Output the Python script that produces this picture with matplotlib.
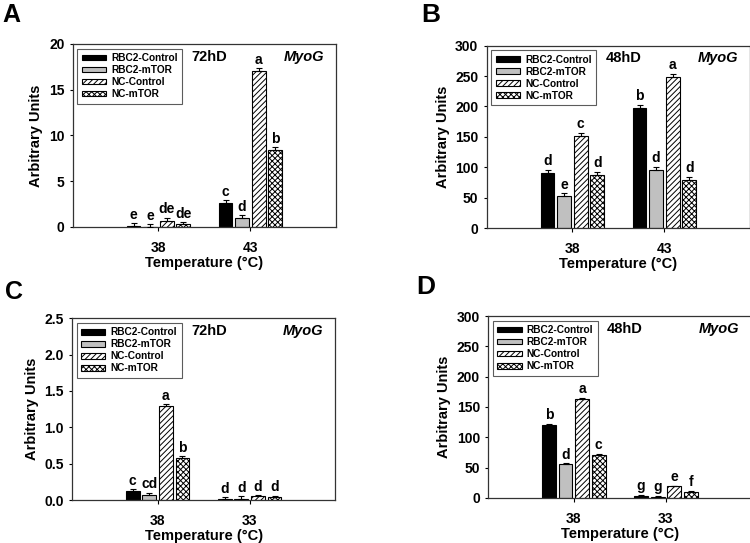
import numpy as np
import matplotlib
matplotlib.use('Agg')
import matplotlib.pyplot as plt

plt.rcParams['font.family'] = ['Liberation Sans', 'DejaVu Sans']
plt.rcParams['font.weight'] = 'bold'
plt.rcParams['hatch.linewidth'] = 0.7

series = ['RBC2-Control', 'RBC2-mTOR', 'NC-Control', 'NC-mTOR']
temps_ab = ['38', '43']
temps_cd = ['38', '33']

# values per temperature group, in series order
a_vals = [[0.15, 0.05, 0.6, 0.3], [2.6, 1.0, 17.1, 8.4]]
a_err = [[0.25, 0.25, 0.4, 0.2], [0.3, 0.3, 0.25, 0.3]]
a_let = [['e', 'e', 'de', 'de'], ['c', 'd', 'a', 'b']]

b_vals = [[91, 52, 151, 88], [197, 95, 248, 79]]
b_err = [[5, 5, 5, 5], [5, 5, 5, 5]]
b_let = [['d', 'e', 'c', 'd'], ['b', 'd', 'a', 'd']]

c_vals = [[0.13, 0.07, 1.30, 0.58], [0.02, 0.02, 0.05, 0.04]]
c_err = [[0.02, 0.03, 0.02, 0.02], [0.02, 0.03, 0.02, 0.02]]
c_let = [['c', 'cd', 'a', 'b'], ['d', 'd', 'd', 'd']]

d_vals = [[120, 56, 163, 70], [4, 2, 19, 10]]
d_err = [[2, 1, 2, 2], [1, 1, 1, 1]]
d_let = [['b', 'd', 'a', 'c'], ['g', 'g', 'e', 'f']]

colors = ['black', '#c0c0c0', 'white', 'white']
hatches = [None, None, '//////', 'xxxxxx']


def panel(ax, temps, vals, err, lets, ymax, ystep, fmt, time_txt, letter_off):
    pitch = 0.18
    width = 0.15
    vals = np.array(vals)
    err = np.array(err)
    for i in range(4):
        x = np.arange(len(temps)) + (i - 1.5) * pitch
        ax.bar(x, vals[:, i], width=width, color=colors[i], edgecolor='black',
               linewidth=0.8, hatch=hatches[i], label=series[i], zorder=2)
        ax.errorbar(x, vals[:, i], yerr=[np.zeros(len(temps)), err[:, i]],
                    fmt='none', ecolor='black', elinewidth=0.8, capsize=2.5,
                    capthick=0.8, zorder=3)
        for j in range(len(temps)):
            ax.text(x[j], vals[j, i] + err[j, i] + letter_off, lets[j][i],
                    ha='center', va='bottom', fontsize=10, fontweight='bold')
    ax.set_xlim(-0.93, 1.93)
    ax.set_ylim(0, ymax)
    ax.set_xticks([0, 1])
    ax.set_xticklabels(temps)
    yt = np.arange(0, ymax + ystep / 2, ystep)
    ax.set_yticks(yt)
    ax.set_yticklabels([fmt % v for v in yt])
    ax.tick_params(axis='x', length=3, pad=7, labelsize=10, direction='out')
    ax.tick_params(axis='y', length=2, pad=4, labelsize=10, direction='out')
    for lab in ax.get_xticklabels() + ax.get_yticklabels():
        lab.set_fontweight('bold')
    for s in ax.spines.values():
        s.set_color('#333333')
        s.set_linewidth(0.9)
    ax.set_xlabel('Temperature (°C)', fontsize=10.5, fontweight='bold', labelpad=1)
    ax.set_ylabel('Arbitrary Units', fontsize=10.5, fontweight='bold', labelpad=4)
    ax.text(0.52, 0.93, time_txt, transform=ax.transAxes, ha='center', va='center',
            fontsize=10.5, fontweight='bold')
    ax.text(0.955, 0.93, 'MyoG', transform=ax.transAxes, ha='right', va='center',
            fontsize=10.5, fontweight='bold', style='italic')
    leg = ax.legend(loc='upper left', fontsize=7.3, frameon=True, fancybox=False,
                    handlelength=2.4, handleheight=0.5, borderaxespad=0.45,
                    labelspacing=0.2, borderpad=0.45, handletextpad=0.5)
    leg.get_frame().set_edgecolor('#333333')
    leg.get_frame().set_linewidth(0.8)
    for t in leg.get_texts():
        t.set_fontweight('bold')


fig = plt.figure(figsize=(7.5, 5.43), dpi=100)
axA = fig.add_axes([0.097, 0.582, 0.351, 0.337])
axB = fig.add_axes([0.649, 0.580, 0.351, 0.336])
axC = fig.add_axes([0.096, 0.079, 0.351, 0.335])
axD = fig.add_axes([0.651, 0.083, 0.351, 0.335])

panel(axA, temps_ab, a_vals, a_err, a_let, 20, 5, '%d', '72hD', 0.15)
panel(axB, temps_ab, b_vals, b_err, b_let, 300, 50, '%d', '48hD', 3)
panel(axC, temps_cd, c_vals, c_err, c_let, 2.5, 0.5, '%.1f', '72hD', 0.02)
panel(axD, temps_cd, d_vals, d_err, d_let, 300, 50, '%d', '48hD', 3)

fig.text(0.003, 0.972, 'A', fontsize=18, fontweight='bold', va='center', ha='left')
fig.text(0.562, 0.972, 'B', fontsize=19, fontweight='bold', va='center', ha='left')
fig.text(0.007, 0.462, 'C', fontsize=18, fontweight='bold', va='center', ha='left')
fig.text(0.555, 0.471, 'D', fontsize=19, fontweight='bold', va='center', ha='left')

fig.savefig('out.png', dpi=100)
